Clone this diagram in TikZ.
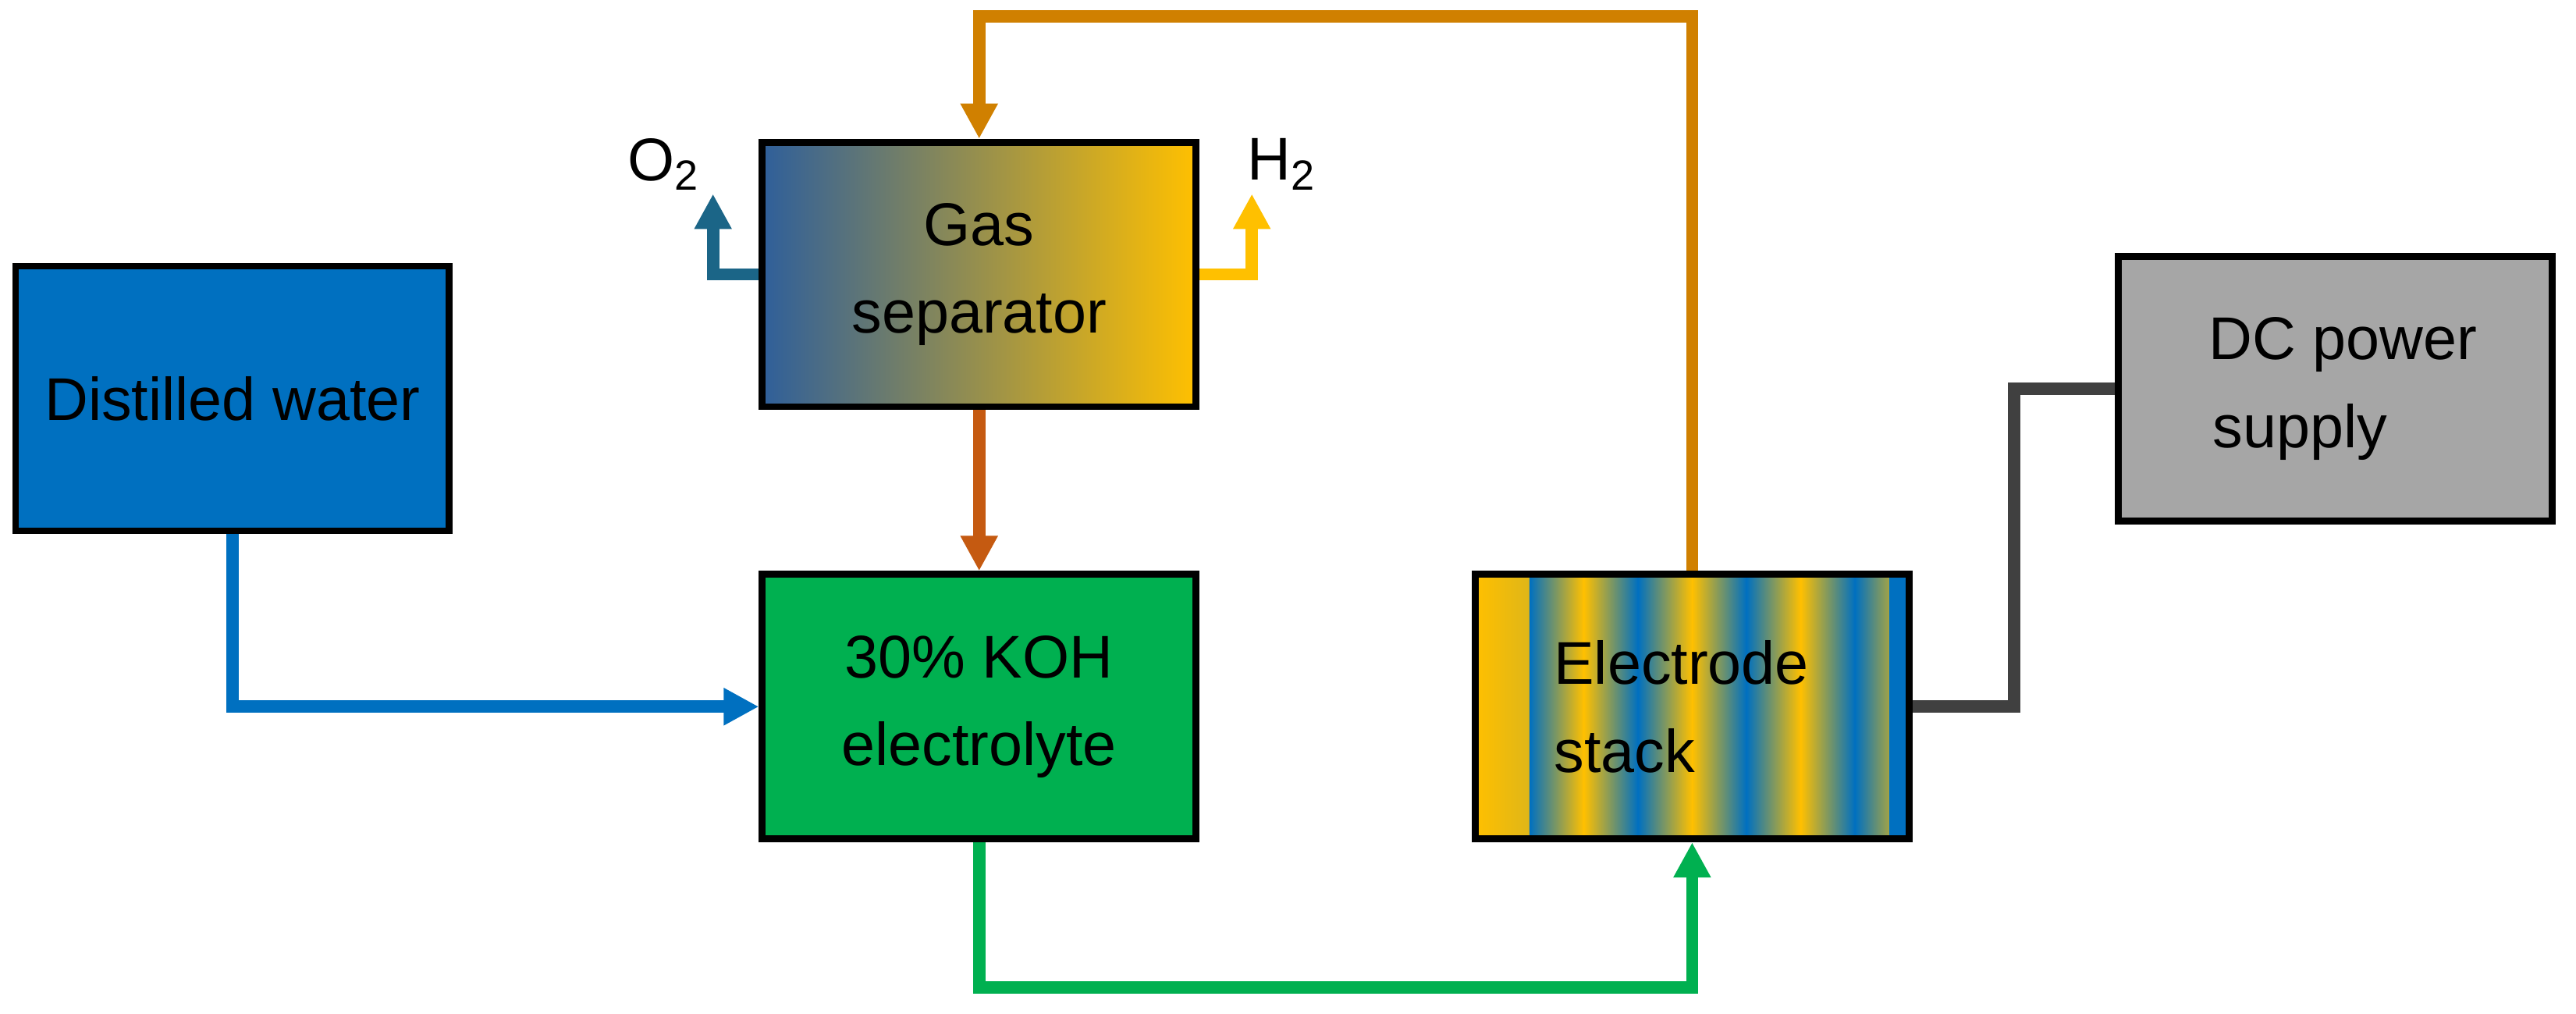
\documentclass[tikz,border=0pt]{standalone}
\usepackage{fontspec}
\setmainfont{Liberation Sans}
\usetikzlibrary{arrows.meta, positioning}
\definecolor{waterblue}{HTML}{0070C0}
\definecolor{kohgreen}{HTML}{00B050}
\definecolor{dcgray}{HTML}{A6A6A6}
\definecolor{loopor}{HTML}{D08000}
\definecolor{dropred}{HTML}{C55A11}
\definecolor{oxteal}{HTML}{1B6587}
\definecolor{hyellow}{HTML}{FFC000}
\definecolor{sepblue}{HTML}{2F5F9A}
\definecolor{wireg}{HTML}{404040}
\begin{document}
\begin{tikzpicture}[
    x=0.02105cm, y=-0.02105cm,
    unit/.style={rectangle, draw=black, line width=2.5pt, minimum width=5.56cm, minimum height=3.39cm, font=\fontsize{22}{32}\selectfont, align=center, inner sep=0pt},
    flow/.style={line width=4.5pt},
    tip/.style={-{Triangle[length=0.45cm, width=0.45cm]}, line width=4.5pt}
    ]
    \useasboundingbox (0,0) rectangle (1568,617);

    % Anlagenteile
    \node[unit, fill=waterblue] (water) at (141.5,242.5) {Distilled water};
    \node[unit, left color=sepblue, middle color=white!88!sepblue, right color=hyellow] (sep) at (596,167) {Gas\\separator};
    \node[unit, fill=kohgreen] (koh) at (596,430) {30\% KOH\\electrolyte};
    \node[unit, path picture={
        \foreach \i/\ca/\cb in {0/hyellow/waterblue,1/waterblue/hyellow,2/hyellow/waterblue,3/waterblue/hyellow,4/hyellow/waterblue,5/waterblue/hyellow,6/hyellow/waterblue,7/waterblue/hyellow}
            \shade[left color=\ca, right color=\cb] ([xshift={\i*0.695cm}]path picture bounding box.south west) rectangle ([xshift={(\i+1)*0.695cm}]path picture bounding box.north west);
        \fill[waterblue] ([xshift=-0.25cm]path picture bounding box.south east) rectangle (path picture bounding box.north east);
    }] (stack) at (1030,430) {};
    \node[font=\fontsize{22}{32}\selectfont, align=left, anchor=west] (stacklbl) at (940,430) {Electrode\\stack};
    \node[unit, fill=dcgray] (dc) at (1421.5,236.5) {\hspace*{0.2cm}DC power\\supply\hspace*{0.9cm}};

    % Hilfspunkte
    \coordinate (looptop) at (596,10);
    \coordinate (loopbot) at (596,601);
    \coordinate (wirex) at (1226,0);
    \coordinate (o2end) at (434,118);
    \coordinate (h2end) at (762,118);

    % Leitungen
    \draw[tip, loopor] (stack.north) |- (looptop) -- (sep.north);
    \draw[tip, dropred] (sep.south) -- (koh.north);
    \draw[tip, waterblue] (water.south) |- (koh.west);
    \draw[tip, kohgreen] (koh.south) -- (loopbot) -| (stack.south);
    \draw[flow, wireg] (stack.east) -- (stack.east -| wirex) |- (dc.west);
    \draw[tip, oxteal] (sep.west) -| (o2end);
    \draw[tip, hyellow] (sep.east) -| (h2end);

    % Gase
    \node[font=\fontsize{22}{26}\selectfont] (o2) at (404,100) {O\textsubscript{2}};
    \node[font=\fontsize{22}{26}\selectfont] (h2) at (780,100) {H\textsubscript{2}};
\end{tikzpicture}
\end{document}
